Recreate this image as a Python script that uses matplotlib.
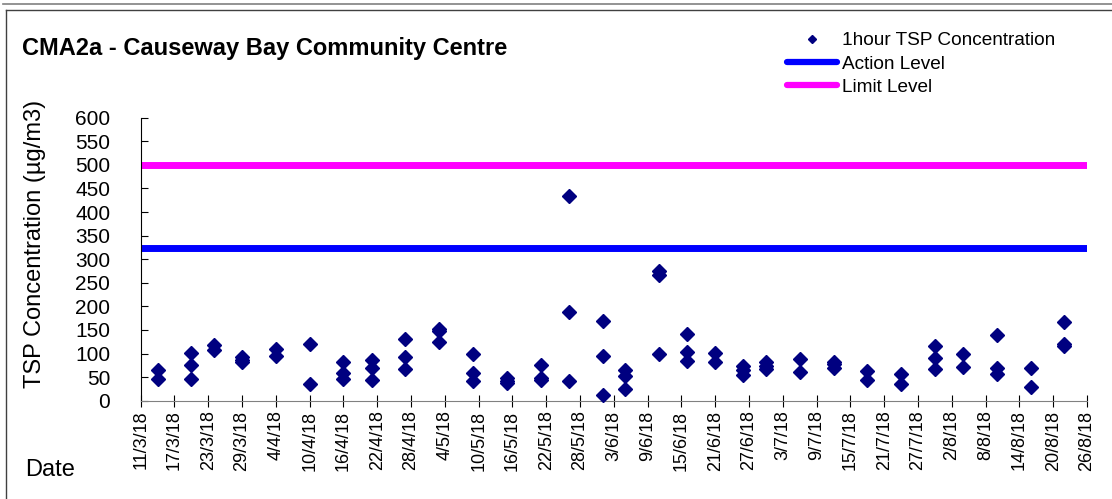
import datetime as dt

import matplotlib
matplotlib.use('Agg')
import matplotlib.pyplot as plt
from matplotlib.lines import Line2D

plt.rcParams['font.family'] = ['Liberation Sans', 'DejaVu Sans']

# 1-hour TSP readings, grouped by monitoring day
sample_dates = [
    '14/3/18', '20/3/18', '24/3/18', '29/3/18', '4/4/18', '10/4/18',
    '16/4/18', '21/4/18', '27/4/18', '3/5/18', '9/5/18', '15/5/18',
    '21/5/18', '26/5/18', '1/6/18', '5/6/18', '11/6/18', '16/6/18',
    '21/6/18', '26/6/18', '30/6/18', '6/7/18', '12/7/18', '18/7/18',
    '24/7/18', '30/7/18', '4/8/18', '10/8/18', '16/8/18', '22/8/18',
]
tsp_values = [
    [65, 45], [102, 76, 45], [119, 107], [93, 87, 83], [109, 94], [120, 35],
    [81, 58, 46], [86, 70, 44], [130, 93, 68], [153, 148, 125], [99, 58, 42], [48, 42, 38],
    [75, 49, 43], [433, 187, 42], [168, 95, 12], [66, 52, 24], [274, 267, 100], [141, 103, 84],
    [102, 83], [74, 66, 55], [83, 74, 67], [89, 61], [83, 77, 70], [64, 44],
    [56, 35], [115, 90, 67], [100, 71], [139, 69, 56], [70, 28], [166, 120, 117],
]
action_level = 323
limit_level = 500

x_start = '11/3/18'
x_end = '26/8/18'


def to_date(s):
    return dt.datetime.strptime(s, '%d/%m/%y')


xs, ys = [], []
for d, vals in zip(sample_dates, tsp_values):
    for v in vals:
        xs.append(to_date(d))
        ys.append(v)

W, H = 1112, 499
fig = plt.figure(figsize=(W / 100, H / 100), dpi=100)
ax = fig.add_axes([140.7 / W, 1 - 400.7 / H, (1087 - 140.7) / W, (400.7 - 117.7) / H])

d0, d1 = to_date(x_start), to_date(x_end)
ax.plot([d0, d1], [action_level] * 2, color='#0000FF', lw=5, solid_capstyle='butt', zorder=2)
ax.plot([d0, d1], [limit_level] * 2, color='#FF00FF', lw=5, solid_capstyle='butt', zorder=2)
ax.plot(xs, ys, 'D', color='#000080', ms=6.7, mec='#000080', ls='none', zorder=3, clip_on=False)

ax.set_xlim(d0, d1)
ax.set_ylim(0, 600)
ax.set_yticks(range(0, 601, 50))
ticks = [d0 + dt.timedelta(days=6 * i) for i in range(29)]
ax.set_xticks(ticks)
ax.set_xticklabels([f'{t.day}/{t.month}/{t.strftime("%y")}' for t in ticks], rotation=90)

for s in ('top', 'right'):
    ax.spines[s].set_visible(False)
ax.spines['bottom'].set_color('#808080')
ax.spines['left'].set_color('black')
ax.tick_params(axis='y', direction='in', length=5, labelsize=15, pad=22)
ax.tick_params(axis='x', direction='inout', length=8, labelsize=13, pad=3)

fig.text(22 / W, 1 - 48 / H, 'CMA2a - Causeway Bay Community Centre',
         fontsize=17, fontweight='bold', ha='left', va='center')
fig.text(35 / W, 1 - 244 / H, 'TSP Concentration (µg/m3)', fontsize=17,
         rotation=90, ha='center', va='center')
fig.text(50 / W, 1 - 470 / H, 'Date', fontsize=17, ha='center', va='center')

handles = [
    Line2D([], [], marker='D', ls='none', color='#000080', ms=4.5),
    Line2D([], [], color='#0000FF', lw=4.5, solid_capstyle='round'),
    Line2D([], [], color='#FF00FF', lw=4.5, solid_capstyle='round'),
]
labels = ['1hour TSP Concentration', 'Action Level', 'Limit Level']
fig.legend(handles, labels, loc='upper left', bbox_to_anchor=(787 / W, 1 - 32 / H),
           frameon=False, fontsize=13.7, handlelength=2.63, handletextpad=0.26,
           labelspacing=0.32, borderpad=0, borderaxespad=0)

# chart-area border
fig.add_artist(Line2D([3 / W, 1], [1 - 4 / H] * 2, color='#808080', lw=1.2))
fig.add_artist(Line2D([6 / W, 1], [1 - 10 / H] * 2, color='#404040', lw=1))
fig.add_artist(Line2D([6 / W, 6 / W], [0, 1 - 10 / H], color='#404040', lw=1))

fig.savefig('out.png', dpi=100)
